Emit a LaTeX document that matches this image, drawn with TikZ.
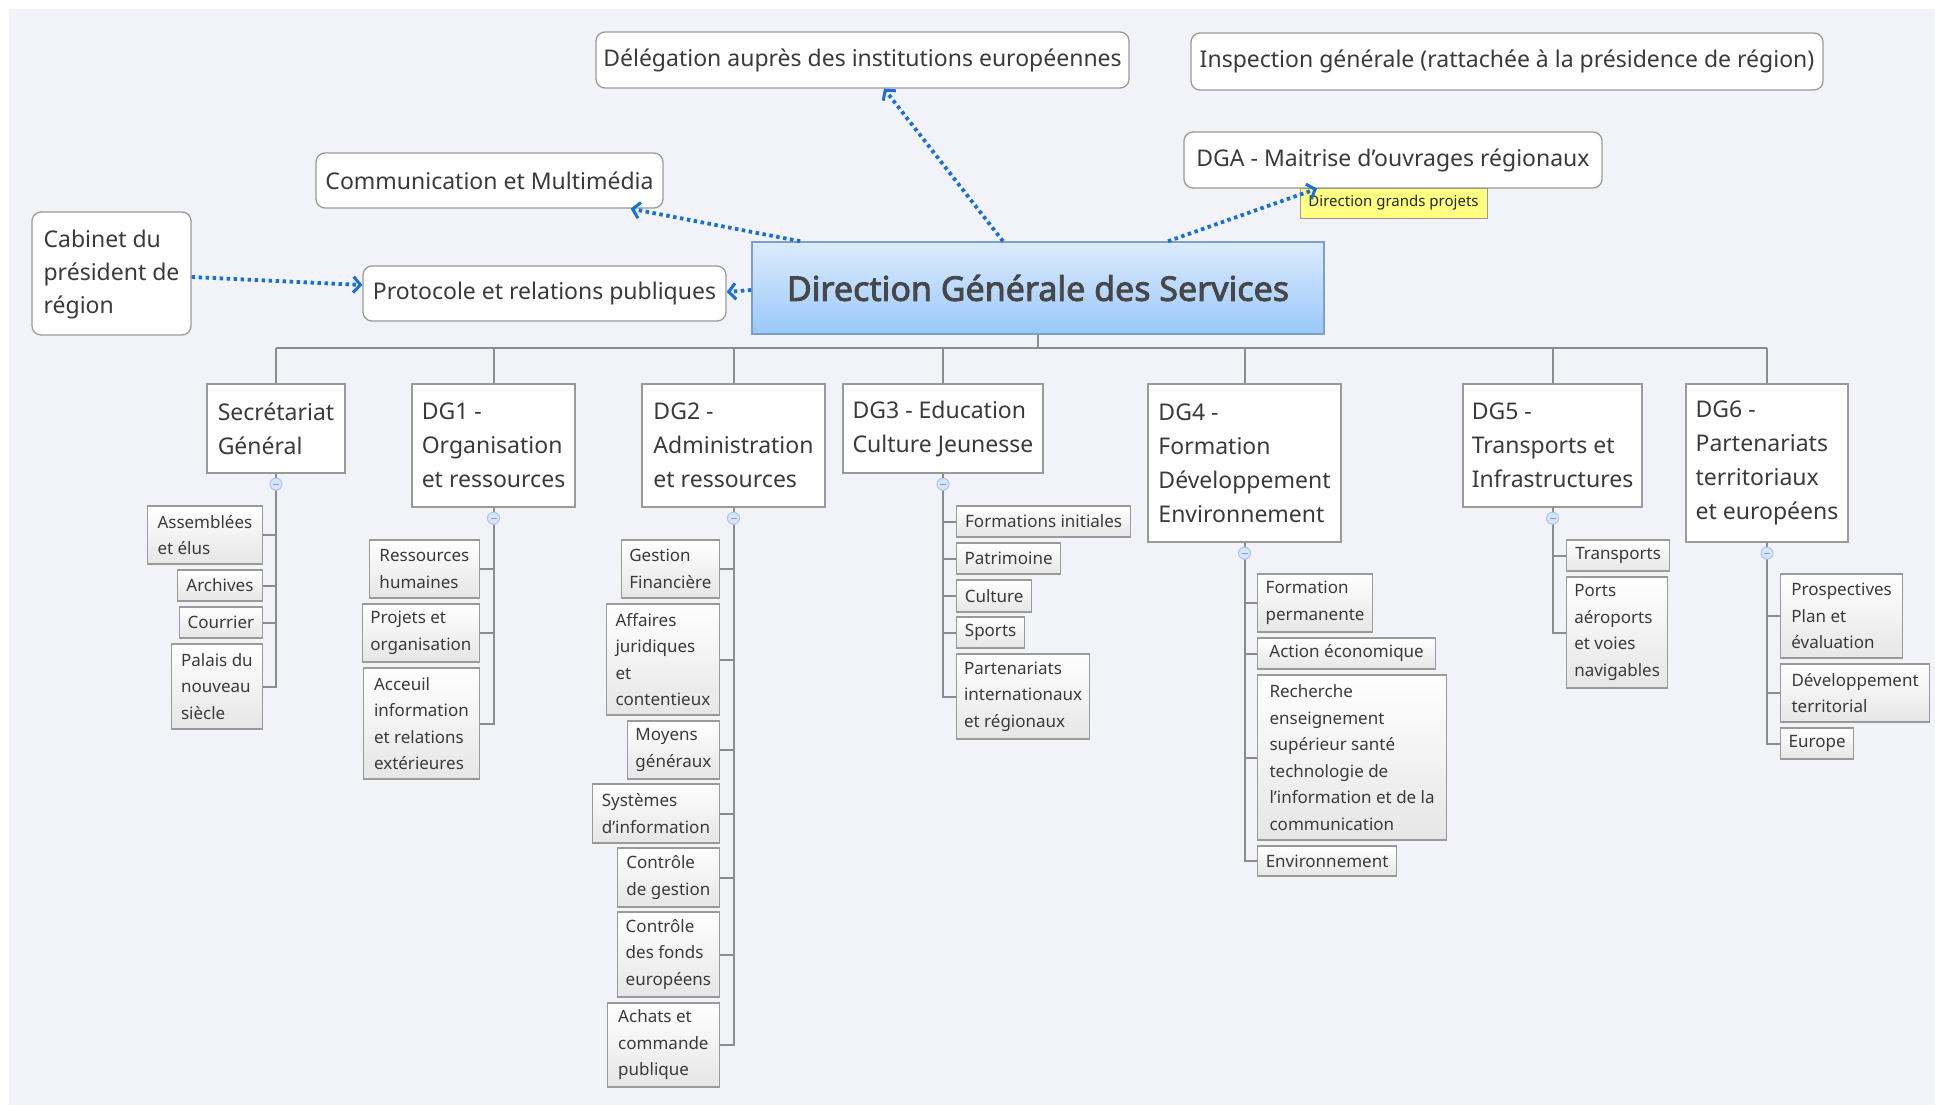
\documentclass[tikz,border=0pt]{standalone}
\usepackage{fontspec}
\setmainfont{Noto Sans}
\newfontfamily\centralfont{Noto Sans}[FakeBold=2.5]
\usetikzlibrary{arrows.meta,positioning}
\definecolor{bg}{HTML}{F2F3F8}
\definecolor{txt}{HTML}{3A3A3A}
\definecolor{brd}{HTML}{9A9A9A}
\definecolor{lnk}{HTML}{8C8C8C}
\definecolor{blu}{HTML}{1A6FD6}
\definecolor{ctop}{HTML}{DCEBFD}
\definecolor{cbot}{HTML}{99C8FA}
\definecolor{cbrd}{HTML}{7F9FC4}
\definecolor{yel}{HTML}{FFFF80}
\definecolor{cfill}{HTML}{D5E5FC}
\definecolor{cdraw}{HTML}{A6C5F2}
\definecolor{chbot}{HTML}{E6E6E6}
\begin{document}
\begin{tikzpicture}[x=1pt,y=-1pt,
  every node/.style={text=txt, inner sep=2pt},
  sz/.style 2 args={minimum width=#1pt, minimum height=#2pt},
  topbox/.style={draw=brd, line width=1.3pt, fill=white, rounded corners=9pt,
    font=\fontsize{23}{33}\selectfont, align=left},
  central/.style={draw=cbrd, line width=1.5pt, top color=ctop, bottom color=cbot,
    font=\centralfont\fontsize{34}{40}\selectfont, text=black!72},
  lvlbox/.style={draw=brd, line width=1.4pt, fill=white,
    font=\fontsize{23}{34}\selectfont, align=left},
  childbox/.style={draw=brd, line width=1.2pt, top color=white, bottom color=chbot,
    font=\fontsize{17}{26.5}\selectfont, align=left},
  notebox/.style={draw=black!40, line width=1pt, fill=yel,
    font=\fontsize{15}{18}\selectfont, text=black!85},
  tree/.style={draw=lnk, line width=2pt},
  collapse/.style={circle, draw=cdraw, fill=cfill, line width=1pt, minimum size=12pt, inner sep=0pt},
  cminus/.style={draw=cdraw!80!black, line width=1pt},
  dotarrow/.style={draw=blu, line width=3.8pt, dash pattern=on 3.5pt off 3.5pt,
    -{Straight Barb[length=7pt,width=16pt,line width=3pt]}}
]
\useasboundingbox (0,0) rectangle (1935,1105);
\fill[white] (0,0) rectangle (1935,1105);
\fill[bg] (9,9) rectangle (1935,1105);

% top level nodes
\node[central, sz={572}{92}] (C) at (1038,288) {Direction Générale des Services};
\node[topbox, sz={533}{56}] (Del) at (862.5,60) {Délégation auprès des institutions européennes};
\node[topbox, sz={632}{57}] (Insp) at (1507,61.5) {Inspection générale (rattachée à la présidence de région)};
\node[topbox, sz={418}{56}] (DGA) at (1393,160) {DGA - Maitrise d'ouvrages régionaux};
\node[topbox, sz={347}{55}] (Comm) at (489.5,180.5) {Communication et Multimédia};
\node[topbox, sz={159}{123}, text depth=4pt] (Cab) at (111.5,273.5) {Cabinet du\\président de\\région};
\node[topbox, sz={363}{55}] (Prot) at (544.5,293.5) {Protocole et relations publiques};
\node[notebox, sz={187}{30}] (Note) at (1393.5,203) {Direction grands projets};

% level 1
\node[lvlbox, sz={138}{89}] (SG) at (276,428.5) {Secrétariat\\Général};
\node[lvlbox, sz={163}{123}] (DG1) at (493.5,445.5) {DG1 -\\Organisation\\et ressources};
\node[lvlbox, sz={183}{123}] (DG2) at (733.5,445.5) {DG2 -\\Administration\\et ressources};
\node[lvlbox, sz={200}{89}] (DG3) at (943,428.5) {DG3 - Education\\Culture Jeunesse};
\node[lvlbox, sz={193}{158}] (DG4) at (1244.5,463) {DG4 -\\Formation\\Développement\\Environnement};
\node[lvlbox, sz={179}{123}] (DG5) at (1552.5,445.5) {DG5 -\\Transports et\\Infrastructures};
\node[lvlbox, sz={162}{158}] (DG6) at (1767,463) {DG6 -\\Partenariats\\territoriaux\\et européens};

% SG children
\node[childbox, sz={115}{58}, anchor=east] (sg1) at (263,535) {Assemblées\\et élus};
\node[childbox, sz={85}{31}, anchor=east] (sg2) at (263,585.5) {Archives};
\node[childbox, sz={83}{31}, anchor=east] (sg3) at (263,622.5) {Courrier};
\node[childbox, sz={91}{85}, anchor=east] (sg4) at (263,686.5) {Palais du\\nouveau\\siècle};

% DG1 children
\node[childbox, sz={110}{58}, anchor=east] (a1) at (480,569) {Ressources\\humaines};
\node[childbox, sz={117}{58}, anchor=east] (a2) at (480,633) {Projets et\\organisation};
\node[childbox, sz={116}{111}, anchor=east] (a3) at (480,723.5) {Acceuil\\information\\et relations\\extérieures};

% DG2 children
\node[childbox, sz={98}{58}, anchor=east] (b1) at (720,569) {Gestion\\Financière};
\node[childbox, sz={113}{111}, anchor=east] (b2) at (720,659.5) {Affaires\\juridiques\\et\\contentieux};
\node[childbox, sz={92}{58}, anchor=east] (b3) at (720,750) {Moyens\\généraux};
\node[childbox, sz={127}{59}, anchor=east] (b4) at (720,813.5) {Systèmes\\d'information};
\node[childbox, sz={102}{59}, anchor=east] (b5) at (720,877.5) {Contrôle\\de gestion};
\node[childbox, sz={102}{85}, anchor=east] (b6) at (720,954.5) {Contrôle\\des fonds\\européens};
\node[childbox, sz={112}{84}, anchor=east] (b7) at (720,1045) {Achats et\\commande\\publique};

% DG3 children
\node[childbox, sz={174}{31}, anchor=west] (c1) at (956,521.5) {Formations initiales};
\node[childbox, sz={104}{31}, anchor=west] (c2) at (956,558.5) {Patrimoine};
\node[childbox, sz={75}{32}, anchor=west] (c3) at (956,596) {Culture};
\node[childbox, sz={68}{31}, anchor=west] (c4) at (956,632.5) {Sports};
\node[childbox, sz={133}{85}, anchor=west] (c5) at (956,696.5) {Partenariats\\internationaux\\et régionaux};

% DG4 children
\node[childbox, sz={115}{58}, anchor=west] (d1) at (1257,603) {Formation\\permanente};
\node[childbox, sz={178}{31}, anchor=west] (d2) at (1257,653.5) {Action économique};
\node[childbox, sz={189}{165}, anchor=west] (d3) at (1257,757.5) {Recherche\\enseignement\\supérieur santé\\technologie de\\l'information et de la\\communication};
\node[childbox, sz={139}{30}, anchor=west] (d4) at (1257,861) {Environnement};

% DG5 children
\node[childbox, sz={103}{31}, anchor=west] (e1) at (1566,555.5) {Transports};
\node[childbox, sz={101}{111}, anchor=west] (e2) at (1566,632.5) {Ports\\aéroports\\et voies\\navigables};

% DG6 children
\node[childbox, sz={122}{84}, anchor=west] (f1) at (1780,616) {Prospectives\\Plan et\\évaluation};
\node[childbox, sz={149}{58}, anchor=west] (f2) at (1780,693) {Développement\\territorial};
\node[childbox, sz={73}{31}, anchor=west] (f3) at (1780,743.5) {Europe};

% tree connectors
\coordinate (bus) at (1038,348);
\draw[tree] (C.south) -- (C.south |- bus);
\draw[tree] (SG.north |- bus) -- (DG6.north |- bus);
\foreach \n in {SG,DG1,DG2,DG3,DG4,DG5,DG6} \draw[tree] (\n.north) -- (\n.north |- bus);

\draw[tree] (SG.south) |- (sg4.east);
\foreach \c in {sg1,sg2,sg3} \draw[tree] (\c.east) -- (SG.south |- \c.east);
\draw[tree] (DG1.south) |- (a3.east);
\foreach \c in {a1,a2} \draw[tree] (\c.east) -- (DG1.south |- \c.east);
\draw[tree] (DG2.south) |- (b7.east);
\foreach \c in {b1,b2,b3,b4,b5,b6} \draw[tree] (\c.east) -- (DG2.south |- \c.east);
\draw[tree] (DG3.south) |- (c5.west);
\foreach \c in {c1,c2,c3,c4} \draw[tree] (\c.west) -- (DG3.south |- \c.west);
\draw[tree] (DG4.south) |- (d4.west);
\foreach \c in {d1,d2,d3} \draw[tree] (\c.west) -- (DG4.south |- \c.west);
\draw[tree] (DG5.south) |- (e2.west);
\draw[tree] (e1.west) -- (DG5.south |- e1.west);
\draw[tree] (DG6.south) |- (f3.west);
\foreach \c in {f1,f2} \draw[tree] (\c.west) -- (DG6.south |- \c.west);

% collapse markers
\foreach \n in {SG,DG1,DG2,DG3,DG4,DG5,DG6} {
  \node[collapse, below=4pt of \n] (\n-c) {};
  \draw[cminus] ([xshift=-3pt]\n-c.center) -- ([xshift=3pt]\n-c.center);
}

% dotted arrows
\draw[dotarrow] ([yshift=-3.5pt]Cab.east) -- ([yshift=8.5pt]Prot.west);
\draw[dotarrow] ([yshift=-2pt]C.west) -- ([yshift=1.5pt]Prot.east);
\draw[dotarrow] ([xshift=49pt]C.north west) -- ([xshift=-33pt]Comm.south east);
\draw[dotarrow] ([xshift=-35pt]C.north) -- ([xshift=21.5pt]Del.south);
\draw[dotarrow] ([xshift=130pt]C.north) -- ([xshift=-76pt]DGA.south);
\end{tikzpicture}
\end{document}
